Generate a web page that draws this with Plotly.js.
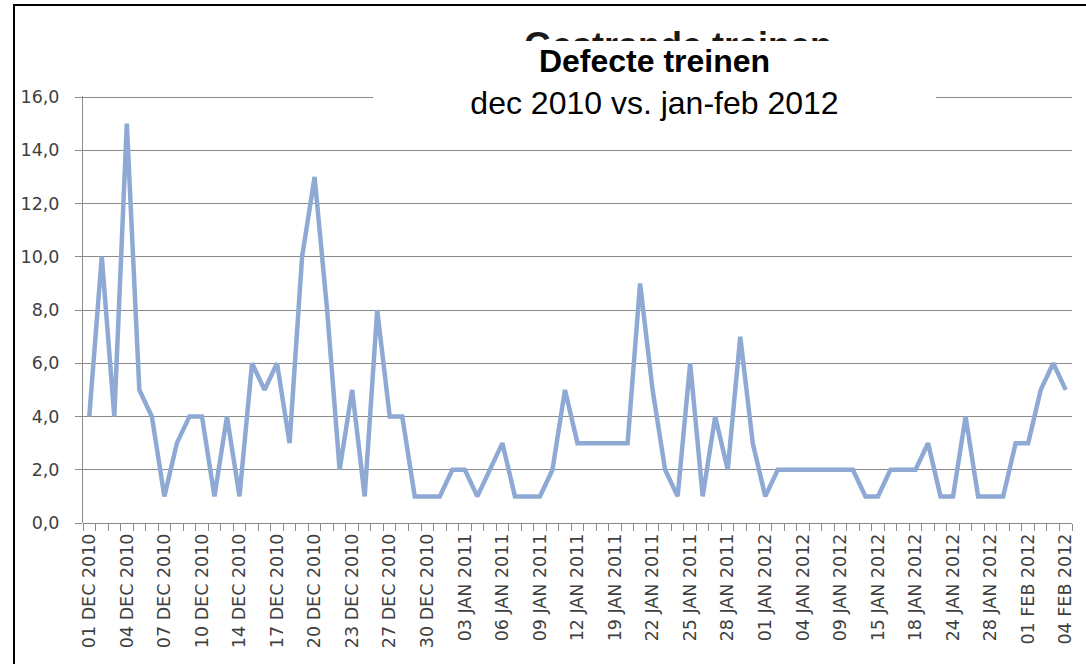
<!DOCTYPE html>
<html>
<head>
<meta charset="utf-8">
<script src="https://cdn.plot.ly/plotly-3.0.1.min.js"></script>
<style>
  html, body { margin: 0; padding: 0; background: #fff; }
  #chart { width: 1086px; height: 664px; position: absolute; left: 0; top: 0; }
  #frame { position: absolute; left: 13px; top: 4px; right: 0; bottom: 0;
           border-left: 2px solid #000; border-top: 2px solid #000; pointer-events: none; }
</style>
</head>
<body>
<div id="chart"></div>
<div id="frame"></div>
<script>
// Categories (dates, one per data point)
const dates = [
  "01 DEC 2010","02 DEC 2010","03 DEC 2010","04 DEC 2010","05 DEC 2010","06 DEC 2010",
  "07 DEC 2010","08 DEC 2010","09 DEC 2010","10 DEC 2010","11 DEC 2010","13 DEC 2010",
  "14 DEC 2010","15 DEC 2010","16 DEC 2010","17 DEC 2010","18 DEC 2010","19 DEC 2010",
  "20 DEC 2010","21 DEC 2010","22 DEC 2010","23 DEC 2010","24 DEC 2010","26 DEC 2010",
  "27 DEC 2010","28 DEC 2010","29 DEC 2010","30 DEC 2010","31 DEC 2010",
  "02 JAN 2011","03 JAN 2011","04 JAN 2011","05 JAN 2011","06 JAN 2011","07 JAN 2011",
  "08 JAN 2011","09 JAN 2011","10 JAN 2011","11 JAN 2011","12 JAN 2011","14 JAN 2011",
  "17 JAN 2011","19 JAN 2011","20 JAN 2011","21 JAN 2011","22 JAN 2011","23 JAN 2011",
  "24 JAN 2011","25 JAN 2011","26 JAN 2011","27 JAN 2011","28 JAN 2011","29 JAN 2011",
  "31 JAN 2011",
  "01 JAN 2012","02 JAN 2012","03 JAN 2012","04 JAN 2012","05 JAN 2012","06 JAN 2012",
  "09 JAN 2012","10 JAN 2012","12 JAN 2012","15 JAN 2012","16 JAN 2012","17 JAN 2012",
  "18 JAN 2012","19 JAN 2012","22 JAN 2012","24 JAN 2012","25 JAN 2012","26 JAN 2012",
  "28 JAN 2012","29 JAN 2012","31 JAN 2012","01 FEB 2012","02 FEB 2012","03 FEB 2012",
  "04 FEB 2012"
];

// Series: number of defective trains per day
const defecteTreinen = [
  4,10,4,15,5,4,1,3,4,4,
  1,4,1,6,5,6,3,10,13,8,
  2,5,1,8,4,4,1,1,1,2,
  2,1,2,3,1,1,1,2,5,3,
  3,3,3,3,9,5,2,1,6,1,
  4,2,7,3,1,2,2,2,2,2,
  2,2,1,1,2,2,2,3,1,1,
  4,1,1,1,3,3,5,6,5
];

const titleMain = "Defecte treinen";
const titleSub = "dec 2010 vs. jan-feb 2012";
const titleBehind = "Gestrande treinen";

const gridGray = "#8a8a8a";
const labelFont = { family: "DejaVu Sans", size: 17.5, color: "#404040" };

const trace = {
  type: "scatter",
  mode: "lines",
  x: dates,
  y: defecteTreinen,
  line: { color: "#8eaad4", width: 4.5 },
  hoverinfo: "x+y"
};

const layout = {
  width: 1086,
  height: 664,
  margin: { l: 83, r: 14, t: 96, b: 141, pad: 0 },
  paper_bgcolor: "rgba(0,0,0,0)",
  plot_bgcolor: "#ffffff",
  separators: ",.",
  showlegend: false,
  xaxis: {
    type: "category",
    categoryorder: "array",
    categoryarray: dates,
    range: [-0.5, dates.length - 0.5],
    tickmode: "linear",
    tick0: 0,
    dtick: 1,
    ticklabelstep: 3,
    tickson: "boundaries",
    ticks: "outside",
    ticklen: 7,
    tickcolor: gridGray,
    tickwidth: 1,
    showline: false,
    showgrid: false,
    zeroline: false,
    tickangle: -90,
    tickfont: labelFont,
    ticklabelstandoff: 6,
    fixedrange: true
  },
  yaxis: {
    range: [0, 16.04],
    tickmode: "linear",
    tick0: 0,
    dtick: 2,
    tickformat: ".1f",
    ticks: "outside",
    ticklen: 7,
    tickcolor: gridGray,
    tickwidth: 1,
    showline: true,
    linecolor: gridGray,
    linewidth: 1,
    showgrid: true,
    gridcolor: gridGray,
    gridwidth: 1,
    zeroline: true,
    zerolinecolor: gridGray,
    zerolinewidth: 1,
    tickfont: labelFont,
    ticklabelstandoff: 12,
    fixedrange: true
  },
  annotations: [
    {
      text: "<b>" + titleBehind + "</b>",
      xref: "paper", yref: "paper",
      x: (678 - 83) / 989, y: (524 - 24) / 428,
      xanchor: "center", yanchor: "top",
      width: 330, height: 16,
      valign: "top",
      borderpad: 0,
      showarrow: false,
      font: { family: "Liberation Sans", size: 36, color: "#1a1a1a" }
    },
    {
      text: "<b>" + titleMain + "</b><br>" + titleSub,
      xref: "paper", yref: "paper",
      x: (654.5 - 83) / 989, y: (524 - 41) / 428,
      xanchor: "center", yanchor: "top",
      width: 559, height: 84,
      valign: "top", align: "center",
      bgcolor: "#ffffff",
      borderpad: 2, borderwidth: 0,
      showarrow: false,
      font: { family: "Liberation Sans", size: 32, color: "#000000" }
    }
  ]
};

Plotly.newPlot("chart", [trace], layout, { displayModeBar: false, staticPlot: true });
</script>
</body>
</html>
